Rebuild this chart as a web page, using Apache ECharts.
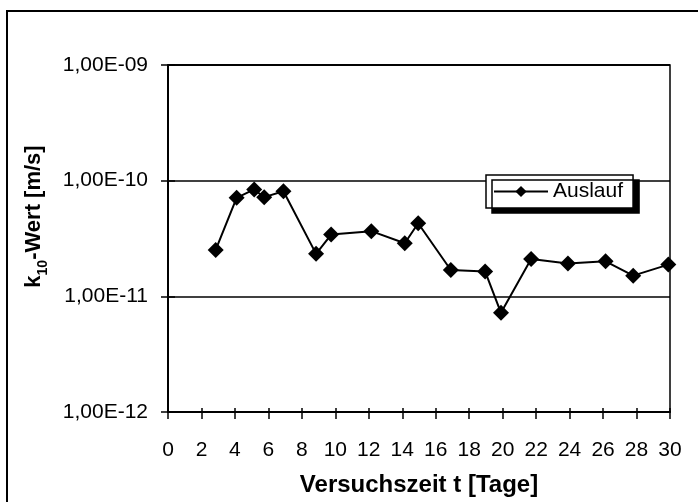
<!DOCTYPE html>
<html>
<head>
<meta charset="utf-8">
<script src="https://cdn.jsdelivr.net/npm/echarts@6/dist/echarts.min.js"></script>
<style>
html,body{margin:0;padding:0;background:#fff;}
#container{width:698px;height:502px;}
</style>
</head>
<body>
<div id="container"></div>
<script>
// Versuchszeit (Tage) und k10-Werte
var days = [2.85, 4.1, 5.15, 5.75, 6.9, 8.85, 9.75, 12.15, 14.15, 14.95, 16.9, 18.95, 19.9, 21.7, 23.9, 26.15, 27.8, 29.9];
var auslauf = [2.52e-11, 7.1e-11, 8.4e-11, 7.2e-11, 8.1e-11, 2.33e-11, 3.42e-11, 3.66e-11, 2.88e-11, 4.28e-11,
	1.69e-11, 1.64e-11, 7.2e-12, 2.1e-11, 1.92e-11, 2.01e-11, 1.51e-11, 1.88e-11];
var xTicks = {min: 0, max: 30, step: 2};
var yTicks = {min: 1e-12, max: 1e-9};

function fmtExp(v){
	var e = Math.round(Math.log10(v));
	var s = Math.abs(e) < 10 ? '0' + Math.abs(e) : '' + Math.abs(e);
	return '1,00E' + (e < 0 ? '-' : '+') + s;
}

var pts = [];
for (var i = 0; i < days.length; i++) {
	pts.push([days[i], auslauf[i]]);
}

var dom = document.getElementById("container");
var myChart = echarts.init(dom, null, {renderer: 'canvas'});
var font = 'Liberation Sans, Arial, sans-serif';
var option = {
	animation: false,
	backgroundColor: '#fff',
	textStyle: {fontFamily: font, color: '#000'},
	grid: {
		left: 168, right: 28, top: 65, bottom: 90,
		containLabel: false, outerBoundsMode: 'none',
		show: true, borderColor: '#000', borderWidth: 1.5, backgroundColor: '#fff'
	},
	graphic: [{
		type: 'rect',
		shape: {x: 7, y: 11, width: 700, height: 500},
		style: {fill: 'none', stroke: '#000', lineWidth: 2},
		silent: true, z: 100
	}],
	legend: {
		left: 486, top: 175,
		data: ['Auslauf'],
		itemWidth: 54, itemHeight: 14,
		itemGap: 6,
		padding: [6, 10, 6, 7],
		borderColor: '#000', borderWidth: 1.5, borderRadius: 0,
		backgroundColor: '#fff',
		shadowColor: '#000', shadowBlur: 0, shadowOffsetX: 6, shadowOffsetY: 5,
		textStyle: {fontFamily: font, fontSize: 21, lineHeight: 21, color: '#000'}
	},
	xAxis: [{
		type: 'value', min: xTicks.min, max: xTicks.max, interval: xTicks.step,
		axisLine: {show: true, onZero: false, lineStyle: {color: '#000', width: 2}},
		axisTick: {show: true, length: 7, lineStyle: {color: '#000', width: 1.5}},
		axisLabel: {margin: 28, fontSize: 21, color: '#000', fontFamily: font},
		splitLine: {show: false},
		name: 'Versuchszeit t [Tage]', nameLocation: 'middle', nameGap: 61,
		nameTextStyle: {fontSize: 24, fontWeight: 'bold', color: '#000', fontFamily: font}
	}, {
		type: 'value', min: xTicks.min, max: xTicks.max, interval: xTicks.step,
		position: 'bottom',
		axisLine: {show: false},
		axisTick: {show: true, inside: true, length: 4, lineStyle: {color: '#000', width: 1.5}},
		axisLabel: {show: false},
		splitLine: {show: false}
	}],
	yAxis: [{
		type: 'log', logBase: 10, min: yTicks.min, max: yTicks.max,
		axisLine: {show: true, lineStyle: {color: '#000', width: 2}},
		axisTick: {show: true, length: 7, lineStyle: {color: '#000', width: 1.5}},
		axisLabel: {margin: 20, fontSize: 21, color: '#000', fontFamily: font, formatter: fmtExp},
		splitLine: {show: true, lineStyle: {color: '#000', width: 1.5}},
		minorTick: {show: false},
		name: '{b|k}{s|10}{b|-Wert [m/s]}', nameLocation: 'middle', nameGap: 123, nameRotate: 90,
		nameTextStyle: {
			fontFamily: font, color: '#000',
			padding: [0, 0, 0, 44],
			rich: {
				b: {fontSize: 22, fontWeight: 'bold', fontFamily: font, color: '#000', verticalAlign: 'bottom'},
				s: {fontSize: 14, fontWeight: 'bold', fontFamily: font, color: '#000', verticalAlign: 'bottom', padding: [0, 0, -5, 0]}
			}
		}
	}, {
		type: 'log', logBase: 10, min: yTicks.min, max: yTicks.max,
		position: 'left',
		axisLine: {show: false},
		axisTick: {show: true, inside: true, length: 7, lineStyle: {color: '#000', width: 1.5}},
		axisLabel: {show: false},
		splitLine: {show: false}
	}],
	series: [{
		name: 'Auslauf',
		type: 'line',
		data: pts,
		xAxisIndex: 0, yAxisIndex: 0,
		symbol: 'diamond', symbolSize: 16,
		itemStyle: {color: '#000'},
		lineStyle: {color: '#000', width: 2},
		z: 5
	}]
};
if (option && typeof option === "object") {
	myChart.setOption(option, true);
}
</script>
</body>
</html>
